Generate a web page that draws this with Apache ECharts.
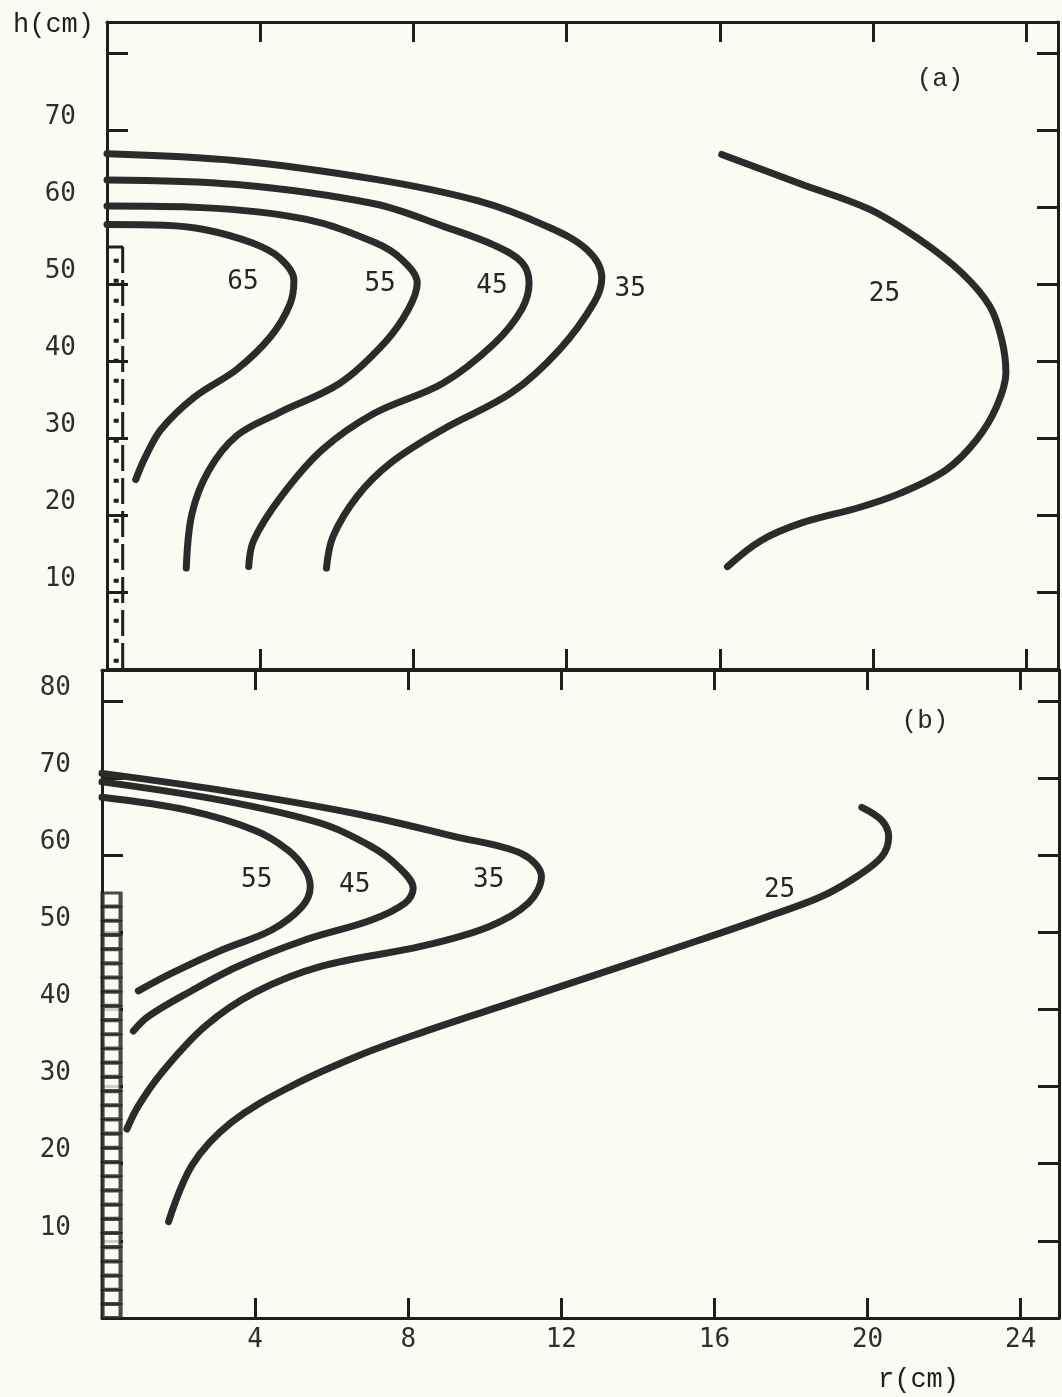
<!DOCTYPE html>
<html>
<head>
<meta charset="utf-8">
<script src="https://cdn.jsdelivr.net/npm/echarts/dist/echarts.min.js"></script>
<style>
html,body{margin:0;padding:0;background:#fbfaf3;}
#c{width:1062px;height:1397px;}
</style>
</head>
<body>
<div id="c"></div>
<script>
// ---------- data (r in cm, h in cm) ----------
const rTicks = [4, 8, 12, 16, 20, 24];
const hTicksA = [10, 20, 30, 40, 50, 60, 70];
const hTicksB = [10, 20, 30, 40, 50, 60, 70, 80];

// panel (a) isotherms
const a65 = [[0,57.7],[1.5,57.6],[2.6,57.0],[3.8,55.3],[4.5,53.4],[4.88,50.5],[4.78,47.4],[4.28,43.2],[3.39,38.9],[2.31,35.4],[1.41,31.1],[1.0,27.5],[0.75,24.6]];
const a55 = [[0,60.1],[2.48,59.9],[5.18,58.4],[6.98,55.4],[7.69,53.2],[8.1,50.1],[7.87,46.7],[7.24,42.3],[6.08,37.1],[4.46,33.2],[3.39,30.3],[2.66,25.8],[2.22,20.2],[2.07,13.1]];
const a45 = [[0,63.5],[3.39,62.9],[6.98,60.4],[8.77,57.5],[10.12,55.0],[10.83,52.8],[11.02,50.1],[10.83,46.7],[10.12,42.3],[8.77,37.1],[6.98,33.2],[5.63,28.5],[4.55,22.4],[3.83,16.7],[3.7,13.3]];
const a35 = [[0,66.9],[3.39,66.0],[6.98,63.6],[9.67,60.8],[11.47,57.5],[12.54,54.4],[12.92,50.8],[12.72,47.6],[11.82,41.5],[10.57,35.9],[8.77,31.1],[7.42,26.8],[6.53,22.4],[5.9,17.2],[5.73,13.1]];
const a25 = [[16.05,66.8],[18.1,63.0],[19.9,59.7],[21.2,55.8],[22.3,51.5],[23.05,47.1],[23.36,42.8],[23.47,38.5],[23.23,34.1],[22.71,29.8],[21.92,25.9],[20.7,22.8],[19.66,21.0],[18.1,18.9],[17.05,16.6],[16.2,13.3]];

// panel (b) isotherms
const b55 = [[0,67.5],[2.26,65.8],[4.0,63.2],[4.87,60.6],[5.31,58.1],[5.44,55.9],[5.22,53.3],[4.43,50.3],[3.13,47.7],[1.82,44.7],[0.95,42.4]];
const b45 = [[0,69.5],[3.13,67.1],[5.74,64.1],[7.04,61.1],[7.74,58.5],[8.13,55.7],[7.92,53.8],[7.04,51.6],[5.3,49.0],[3.56,45.6],[2.26,42.2],[1.21,39.1],[0.82,37.2]];
const b35 = [[0,70.6],[3.13,68.4],[6.61,65.4],[9.22,62.4],[10.96,60.2],[11.48,57.2],[11.14,53.8],[10.09,50.7],[8.35,48.2],[5.74,45.6],[4.0,42.2],[2.69,37.8],[1.56,31.8],[0.95,27.5],[0.65,24.5]];
const b25 = [[1.74,12.5],[2.35,19.8],[3.39,25.4],[4.96,30.1],[6.7,34.0],[8.35,37.0],[10.35,40.3],[12.6,44.0],[15.5,48.8],[17.37,52.0],[18.78,54.6],[19.71,57.2],[20.37,59.8],[20.55,62.4],[20.37,64.5],[19.85,66.2]];

// contour labels [r, h, text]
const labelsA = [[3.55,50.2,'65'],[7.13,49.9,'55'],[10.05,49.7,'45'],[13.66,49.3,'35'],[20.3,48.6,'25']];
const labelsB = [[4.04,56.8,'55'],[6.6,56.1,'45'],[10.1,56.8,'35'],[17.7,55.5,'25']];
const tagA = [[21.75,76.6,'(a)']];
const tagB = [[21.5,77.4,'(b)']];

// heater / probe drawings at the axis (panel a ruler, panel b column of cells)
const rulerA = [[0.41,0],[0.41,54.8]];
const rulerCapA = [[0,54.8],[0.42,54.8]];
const rulerDotsA = [[0.24,0.8],[0.24,53.5]];
const cellsR = 0.25;
const cellsH = [0.9,2.74,4.58,6.42,8.26,10.1,11.94,13.78,15.62,17.46,19.3,21.14,22.98,24.82,26.66,28.5,30.34,32.18,34.02,35.86,37.7,39.54,41.38,43.22,45.06,46.9,48.74,50.58,52.42,54.26];

// ---------- styling ----------
const INK = '#1e1e1e';
const CURVE = '#2b2b2b';
const BG = '#fbfaf3';
const NUMFONT = '"DejaVu Sans Mono", monospace';
const TYPEFONT = '"Liberation Mono", monospace';

function xAx(grid, pos, labels, max) {
  return {
    type: 'value', gridIndex: grid, position: pos, min: 0, max: max, interval: 4,
    axisLine: { show: true, onZero: false, lineStyle: { color: INK, width: 3 } },
    axisTick: { show: true, inside: true, length: 20, lineStyle: { color: INK, width: 3 } },
    axisLabel: {
      show: labels, margin: 9, fontFamily: NUMFONT, fontSize: 26, color: '#2e2e2e',
      formatter: v => (rTicks.indexOf(v) >= 0 ? String(v) : '')
    },
    splitLine: { show: false }
  };
}
function yAx(grid, pos, labelList) {
  return {
    type: 'value', gridIndex: grid, position: pos, min: 0, max: 84, interval: 10,
    axisLine: { show: true, onZero: false, lineStyle: { color: INK, width: 3 } },
    axisTick: { show: true, inside: true, length: 21, lineStyle: { color: INK, width: 3 } },
    axisLabel: {
      show: !!labelList, margin: 31, fontFamily: NUMFONT, fontSize: 26, color: '#2e2e2e',
      verticalAlign: 'bottom', lineHeight: 26,
      formatter: v => (labelList && labelList.indexOf(v) >= 0 ? String(v) : '')
    },
    splitLine: { show: false }
  };
}
function curve(data, xi, yi) {
  return {
    type: 'line', data: data, xAxisIndex: xi, yAxisIndex: yi, smooth: 0.35,
    symbol: 'none', silent: true, z: 3,
    lineStyle: { color: CURVE, width: 7, cap: 'round', join: 'round' }
  };
}
function textSeries(list, xi, yi, font, size) {
  return {
    type: 'scatter', xAxisIndex: xi, yAxisIndex: yi, silent: true, z: 6,
    symbolSize: 1, itemStyle: { color: BG, opacity: 1 },
    data: list.map(d => ({ value: [d[0], d[1]], name: d[2] })),
    label: { show: true, position: 'inside', formatter: p => p.name,
      fontFamily: font, fontSize: size, color: '#262626', opacity: 1,
      textBorderWidth: 0, textBorderColor: 'transparent' }
  };
}
function plainLine(data, xi, yi, width, type) {
  return {
    type: 'line', data: data, xAxisIndex: xi, yAxisIndex: yi, symbol: 'none',
    silent: true, z: 4, lineStyle: { color: INK, width: width, type: type }
  };
}

const chart = echarts.init(document.getElementById('c'), null, { renderer: 'canvas' });
chart.setOption({
  backgroundColor: BG,
  animation: false,
  grid: [
    { left: 107, top: 22, width: 951, height: 647, outerBoundsMode: 'none', containLabel: false },
    { left: 102, top: 670, width: 957, height: 648, outerBoundsMode: 'none', containLabel: false }
  ],
  xAxis: [
    xAx(0, 'bottom', false, 24.83),
    xAx(0, 'top', false, 24.83),
    xAx(1, 'bottom', true, 25.0),
    xAx(1, 'top', false, 25.0)
  ],
  yAxis: [
    yAx(0, 'left', hTicksA),
    yAx(0, 'right', null),
    yAx(1, 'left', hTicksB),
    yAx(1, 'right', null)
  ],
  graphic: [
    { type: 'text', left: 13, top: 11, style: { text: 'h(cm)', font: '27px ' + TYPEFONT, fill: INK } },
    { type: 'text', left: 878, top: 1366, style: { text: 'r(cm)', font: '27px ' + TYPEFONT, fill: INK } }
  ],
  series: [
    curve(a65, 0, 0), curve(a55, 0, 0), curve(a45, 0, 0), curve(a35, 0, 0), curve(a25, 0, 0),
    curve(b55, 2, 2), curve(b45, 2, 2), curve(b35, 2, 2), curve(b25, 2, 2),
    textSeries(labelsA, 0, 0, NUMFONT, 26),
    textSeries(labelsB, 2, 2, NUMFONT, 26),
    textSeries(tagA, 0, 0, TYPEFONT, 26),
    textSeries(tagB, 2, 2, TYPEFONT, 26),
    plainLine(rulerA, 0, 0, 3, [26, 7]),
    plainLine(rulerCapA, 0, 0, 3, 'solid'),
    plainLine(rulerDotsA, 0, 0, 5, [4, 16]),
    {
      type: 'scatter', xAxisIndex: 2, yAxisIndex: 2, silent: true, z: 4,
      symbol: 'rect', symbolSize: [18, 13],
      itemStyle: { color: BG, borderColor: INK, borderWidth: 3.5 },
      data: cellsH.map(h => [cellsR, h])
    }
  ]
});
</script>
</body>
</html>
